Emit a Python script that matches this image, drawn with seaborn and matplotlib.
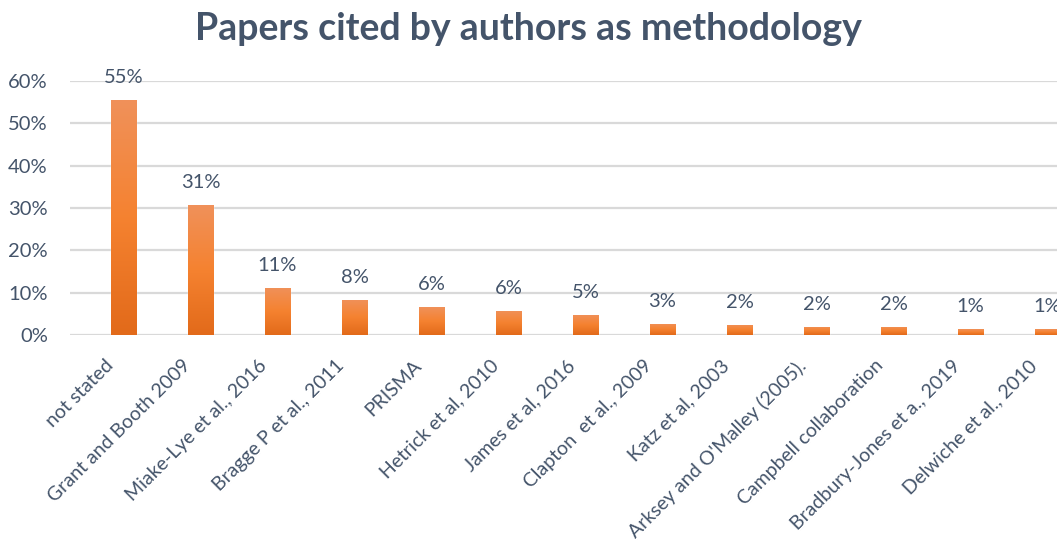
import matplotlib
matplotlib.use("Agg")
import matplotlib.pyplot as plt
import matplotlib.transforms as mtransforms
import seaborn as sns
import numpy as np
import pandas as pd
from matplotlib.colors import LinearSegmentedColormap
from matplotlib.ticker import PercentFormatter

categories = ["not stated", "Grant and Booth 2009", "Miake-Lye et al., 2016",
              "Bragge P et al., 2011", "PRISMA", "Hetrick et al, 2010",
              "James et al, 2016", "Clapton  et al., 2009", "Katz et al, 2003",
              "Arksey and O'Malley (2005).", "Campbell collaboration",
              "Bradbury-Jones et a., 2019", "Delwiche et al., 2010"]
values = [0.555, 0.307, 0.112, 0.083, 0.066, 0.057, 0.048, 0.026, 0.024,
          0.019, 0.019, 0.014, 0.014]
value_labels = ["55%", "31%", "11%", "8%", "6%", "6%", "5%", "3%", "2%",
                "2%", "2%", "1%", "1%"]
yticks = [0, 0.1, 0.2, 0.3, 0.4, 0.5, 0.6]

sns.set_theme(style="white")
plt.rcParams['font.family'] = ['Lato', 'DejaVu Sans']
text_color = "#44546A"

df = pd.DataFrame({"cat": categories, "val": values})

fig = plt.figure(figsize=(10.57, 5.40), dpi=100)
ax = fig.add_axes([70 / 1057, (540 - 335) / 540, 1016 / 1057, 254 / 540])
sns.barplot(data=df, x="cat", y="val", ax=ax, color="#F58232", width=0.325,
            saturation=1, zorder=3)

XL = (-0.695, 12.5)
ax.set_ylim(0, 0.6)
ax.set_xlim(*XL)
ax.set_yticks(yticks)
ax.yaxis.set_major_formatter(PercentFormatter(1.0, decimals=0))
ax.grid(axis="y", color="#D9D9D9", lw=1.6, zorder=0)
ax.set_axisbelow(True)
for s in ax.spines.values():
    s.set_visible(False)
ax.set_xlabel("")
ax.set_ylabel("")
ax.tick_params(axis="y", labelsize=14.5, labelcolor=text_color, length=0, pad=16)
ax.tick_params(axis="x", labelsize=14, labelcolor=text_color, length=0, pad=20)
shift = mtransforms.ScaledTranslation(-13 / 100, 0, fig.dpi_scale_trans)
for lab in ax.get_xticklabels():
    lab.set_rotation(45)
    lab.set_ha("right")
    lab.set_va("center")
    lab.set_rotation_mode("anchor")
    lab.set_transform(lab.get_transform() + shift)
for lab in ax.get_yticklabels():
    lab.set_ha("right")

cmap = LinearSegmentedColormap.from_list("g", ["#E26A1A", "#F58230", "#F0915A"])
grad = np.linspace(0, 1, 256).reshape(-1, 1)
for patch, lbl in zip(ax.patches, value_labels):
    x0, y0 = patch.get_x(), patch.get_y()
    w, h = patch.get_width(), patch.get_height()
    patch.set_facecolor("none")
    im = ax.imshow(grad, extent=[x0, x0 + w, y0, y0 + h], origin="lower",
                   cmap=cmap, aspect="auto", zorder=3)
    im.set_clip_path(patch)
    ax.annotate(lbl, (x0 + w / 2, y0 + h), xytext=(0, 10),
                textcoords="offset points", ha="center", va="bottom",
                fontsize=14.5, color=text_color, annotation_clip=False)
ax.set_xlim(*XL)
ax.set_ylim(0, 0.6)

fig.text(0.5, 0.947, "Papers cited by authors as methodology", ha="center",
         va="center", fontsize=27, fontweight="bold", color=text_color)

fig.savefig("out.png", dpi=100)
